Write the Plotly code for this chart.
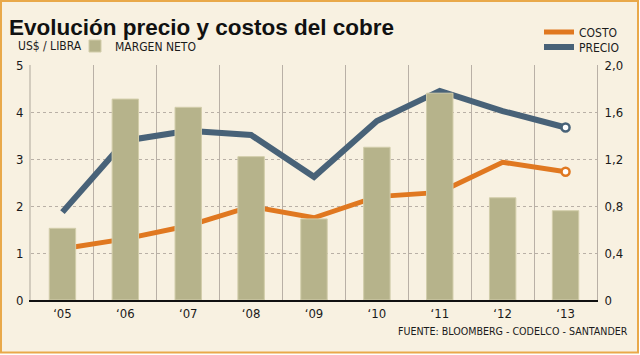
import plotly.graph_objects as go

# ---- data ----
years = ["\u201805", "\u201806", "\u201807", "\u201808", "\u201809", "\u201810", "\u201811", "\u201812", "\u201813"]
costo = [1.09, 1.30, 1.58, 1.99, 1.75, 2.20, 2.29, 2.93, 2.73]
precio = [1.87, 3.39, 3.60, 3.51, 2.62, 3.81, 4.45, 4.02, 3.67]
margen = [0.61, 1.71, 1.64, 1.22, 0.69, 1.30, 1.76, 0.87, 0.76]
left_tickvals = [0, 1, 2, 3, 4, 5]
right_tickvals = [0, 0.4, 0.8, 1.2, 1.6, 2.0]
right_ticktext = ["0", "0,4", "0,8", "1,2", "1,6", "2,0"]

title_text = "Evolución precio y costos del cobre"
unit_text = "US$ / LIBRA"
source_text = "FUENTE: BLOOMBERG - CODELCO - SANTANDER"

# ---- style ----
W, H = 640, 355
L, R, T, B = 31, 43, 65, 55
PW, PH = W - L - R, H - T - B
BG = "#f8f1e1"
BORDER = "#e9a94a"
ORANGE = "#e07820"
SLATE = "#486278"
BAR = "#b6b38b"
GRID = "#b9b0a6"
SMALL = "Liberation Sans Narrow, DejaVu Sans Condensed, Liberation Sans, Arial, sans-serif"
BIG = "Liberation Sans, Arial, sans-serif"


def xp(px):
    return (px - L) / PW


def yp(py):
    return (H - B - py) / PH


fig = go.Figure()

fig.add_trace(go.Bar(
    x=years, y=margen, name="MARGEN NETO", yaxis="y2", width=0.42,
    marker=dict(color=BAR, line=dict(color="#d2cdaa", width=1)),
    legend="legend",
))
fig.add_trace(go.Scatter(
    x=years, y=costo, name="COSTO", mode="lines",
    line=dict(color=ORANGE, width=5), legend="legend2",
))
fig.add_trace(go.Scatter(
    x=years, y=precio, name="PRECIO", mode="lines",
    line=dict(color=SLATE, width=6), legend="legend3",
))
# end markers on last point
fig.add_trace(go.Scatter(
    x=years[-1:], y=costo[-1:], mode="markers", showlegend=False,
    marker=dict(color="white", size=8, line=dict(color=ORANGE, width=2.5)),
))
fig.add_trace(go.Scatter(
    x=years[-1:], y=precio[-1:], mode="markers", showlegend=False,
    marker=dict(color="white", size=8, line=dict(color=SLATE, width=2.5)),
))


def leg(x_px, y_px, orient="h"):
    return dict(
        orientation=orient, xref="container", yref="container",
        x=x_px / W, y=1 - y_px / H, xanchor="left", yanchor="middle",
        bgcolor="rgba(0,0,0,0)", font=dict(family=SMALL, size=12),
    )


fig.update_layout(
    width=W, height=H,
    margin=dict(l=L, r=R, t=T, b=B, pad=0, autoexpand=False),
    paper_bgcolor="white",
    plot_bgcolor="rgba(0,0,0,0)",
    font=dict(family=SMALL, size=12, color="#1a1a1a"),
    xaxis=dict(
        type="category", tickson="boundaries", showgrid=True,
        gridcolor=GRID, gridwidth=1, ticks="", showline=True,
        linecolor="#111111", linewidth=2,
        tickfont=dict(family=SMALL, size=13),
        range=[-0.5, len(years) - 0.5],
    ),
    yaxis=dict(
        range=[0, 5], tickvals=left_tickvals, showgrid=True,
        gridcolor=GRID, griddash="3px,3px", gridwidth=1,
        zeroline=False, showline=True, linecolor="#d3ccbe", linewidth=2,
        ticks="", ticklabelstandoff=3,
        tickfont=dict(family=SMALL, size=13),
    ),
    yaxis2=dict(
        range=[0, 2], overlaying="y", side="right",
        tickvals=right_tickvals, ticktext=right_ticktext,
        showgrid=False, zeroline=False, showline=True,
        linecolor=GRID, linewidth=1, ticks="", ticklabelstandoff=4,
        tickfont=dict(family=SMALL, size=13),
    ),
    legend=leg(75, 46),
    legend2=leg(539, 32),
    legend3=leg(539, 47),
    shapes=[dict(
        type="rect", xref="paper", yref="paper", layer="below",
        x0=xp(1), x1=xp(638), y0=yp(352.5), y1=yp(1),
        fillcolor=BG, line=dict(color=BORDER, width=2),
    )],
    annotations=[
        dict(text="<b>" + title_text + "</b>", xref="paper", yref="paper",
             x=xp(7), y=yp(27), xanchor="left", yanchor="middle",
             showarrow=False, font=dict(family=BIG, size=22.5, color="#111111")),
        dict(text=unit_text, xref="paper", yref="paper",
             x=xp(16), y=yp(46), xanchor="left", yanchor="middle",
             showarrow=False, font=dict(family=SMALL, size=12)),
        dict(text=source_text, xref="paper", yref="paper",
             x=xp(630), y=yp(331), xanchor="right", yanchor="middle",
             showarrow=False, font=dict(family=SMALL, size=10.6)),
    ],
)

fig.write_html("out.html", config={"displayModeBar": False},
               post_script="document.body.style.margin='0';")
